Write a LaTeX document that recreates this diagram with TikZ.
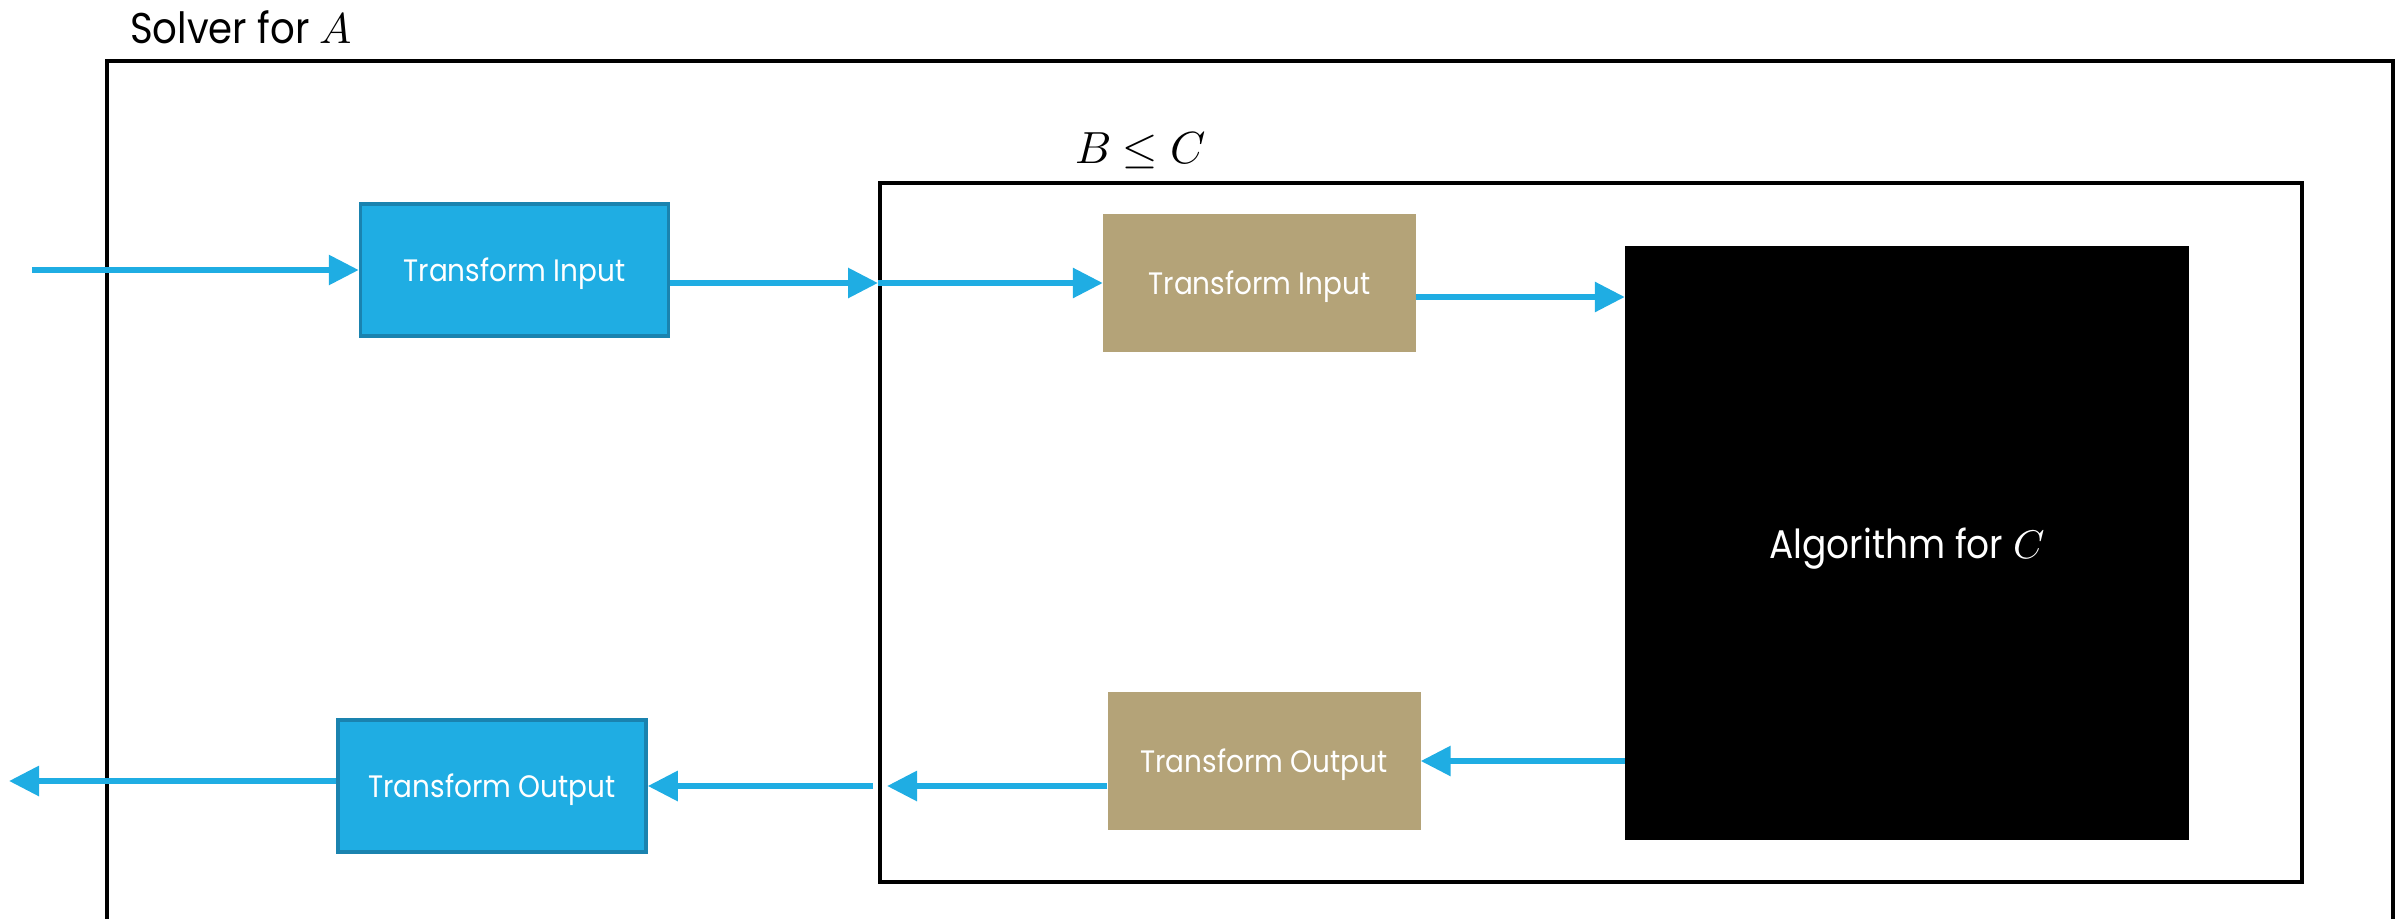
\documentclass[tikz,border=0pt]{standalone}
\usepackage{fontspec}
\usepackage{unicode-math}
\setmainfont{Poppins}[FakeStretch=0.9]
\setmathfont{Latin Modern Math}
\usetikzlibrary{arrows.meta,calc}
\definecolor{cblue}{HTML}{1FADE3}
\definecolor{cbord}{HTML}{1A83AF}
\definecolor{ctan}{HTML}{B4A378}
\begin{document}
\begin{tikzpicture}[x=1pt,y=-1pt,
  conn/.style={draw=cblue, line width=6pt, -{Triangle[length=30pt,width=29pt]}},
  boxtext/.style={text=white, font=\fontsize{31}{36}\selectfont, inner sep=0pt, text depth=0pt},
  bluebox/.style={boxtext, fill=cblue, draw=cbord, line width=3.5pt, minimum width=308pt, minimum height=132pt},
  tanbox/.style={boxtext, fill=ctan, minimum width=313pt, minimum height=138pt},
  frame/.style={draw=black, line width=4pt}]
\path[use as bounding box] (0,0) rectangle (2408,918);
\clip (0,0) rectangle (2408,918);
% outer solver frame
\draw[frame] (107,61) rectangle (2393,980);
\node[anchor=base west, inner sep=0pt, font=\fontsize{43}{50}\selectfont] (ttl) at (130,43) {Solver for $A$};
% inner reduction frame
\node[frame, minimum width=1422pt, minimum height=699pt, inner sep=0pt] (inner) at (1591,532.5) {};
\node[anchor=base west, inner sep=0pt, font=\fontsize{45}{50}\selectfont] (bc) at (1075,163) {$B \leq C$};
% boxes
\node[bluebox] (bti) at (514.5,270) {Transform Input};
\node[bluebox] (bto) at (492,786) {Transform Output};
\node[tanbox] (tti) at (1259.5,283) {Transform Input};
\node[tanbox] (tto) at (1264,761) {Transform Output};
\node[fill=black, minimum width=564pt, minimum height=594pt, inner sep=0pt, text depth=0pt, text=white, font=\fontsize{40}{46}\selectfont] (alg) at (1907,543) {Algorithm for $C$};
% connectors
\coordinate (inL) at (32,270);
\draw[conn] (inL) -- (bti.west);
\coordinate (a2) at (bti.east |- tti.west);
\coordinate (a2m) at (inner.west |- tti.west);
\draw[conn] (a2) -- (a2m);
\draw[conn] (a2m) -- (tti.west);
\coordinate (a3) at ($(tti.east)+(0,14)$);
\draw[conn] (a3) -- (a3 -| alg.west);
\draw[conn] (alg.west |- tto.east) -- (tto.east);
\coordinate (a5) at ($(tto.west)+(0,25)$);
\coordinate (a5e) at ($(a5 -| inner.west)+(9,0)$);
\draw[conn] (a5) -- (a5e);
\coordinate (a6) at ($(inner.west |- bto.east)+(-5,0)$);
\draw[conn] (a6) -- (bto.east);
\coordinate (a7) at ($(bto.west)+(0,-5)$);
\coordinate (outL) at (9,781);
\draw[conn] (a7) -- (outL);
\end{tikzpicture}
\end{document}
